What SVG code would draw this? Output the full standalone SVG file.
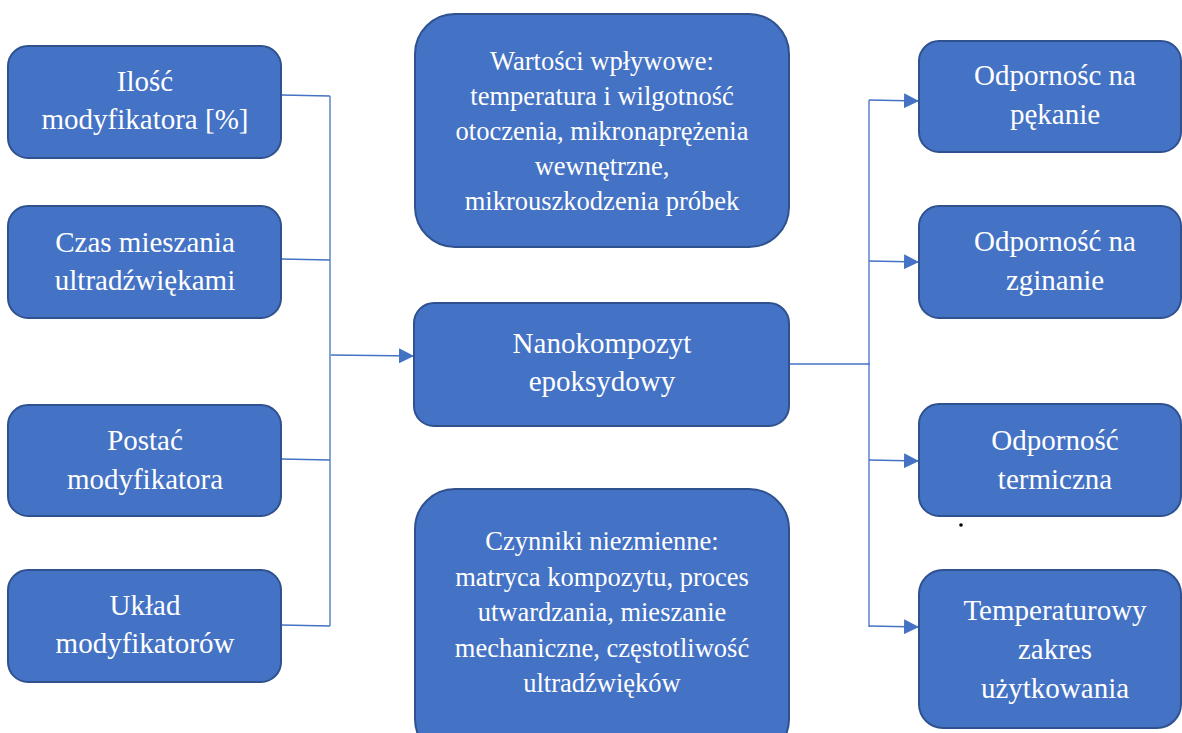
<svg xmlns="http://www.w3.org/2000/svg" width="1182" height="733" viewBox="0 0 1182 733">
<style>
.box{fill:#4472C4;stroke:#2F528F;stroke-width:2}
.t{font-family:"Liberation Serif","Times New Roman",serif;fill:#ffffff;text-anchor:middle;font-size:29px}
.s{font-size:26.5px}
.c{fill:none;stroke:#4472C4;stroke-width:1.3}
</style>
<defs>
<marker id="arr" viewBox="0 0 10 10" refX="10" refY="5" markerWidth="15" markerHeight="15" markerUnits="userSpaceOnUse" orient="auto">
<path d="M0,0 L10,5 L0,10 Z" fill="#4472C4"/>
</marker>
</defs>
<rect width="1182" height="733" fill="#ffffff"/>
<g id="connectors">
<path class="c" d="M281,95 L330,96 M281,259 L330,260 M281,459 L330,460 M281,625 L330,626 M330,96 L330,626"/>
<path class="c" d="M331,355 L414,356" marker-end="url(#arr)"/>
<path class="c" d="M789,364 L870,364 M869,100 L869,627"/>
<path class="c" d="M869,100 L919,101" marker-end="url(#arr)"/>
<path class="c" d="M869,261 L919,262" marker-end="url(#arr)"/>
<path class="c" d="M869,460 L919,461" marker-end="url(#arr)"/>
<path class="c" d="M869,626 L919,627" marker-end="url(#arr)"/>
</g>
<g id="n-ilosc">
<rect class="box" x="8" y="46" width="273" height="112" rx="20"/>
<text class="t" x="145" y="91">Ilość</text>
<text class="t" x="145" y="129">modyfikatora [%]</text>
</g>
<g id="n-czas">
<rect class="box" x="8" y="206" width="273" height="112" rx="20"/>
<text class="t" x="145" y="252">Czas mieszania</text>
<text class="t" x="145" y="290">ultradźwiękami</text>
</g>
<g id="n-postac">
<rect class="box" x="8" y="405" width="273" height="111" rx="20"/>
<text class="t" x="145" y="450">Postać</text>
<text class="t" x="145" y="489">modyfikatora</text>
</g>
<g id="n-uklad">
<rect class="box" x="8" y="570" width="273" height="112" rx="20"/>
<text class="t" x="145" y="615">Układ</text>
<text class="t" x="145" y="653">modyfikatorów</text>
</g>
<g id="n-wartosci">
<rect class="box" x="415" y="14" width="374" height="233" rx="40"/>
<text class="t s" x="602" y="70">Wartości wpływowe:</text>
<text class="t s" x="602" y="105">temperatura i wilgotność</text>
<text class="t s" x="602" y="140">otoczenia, mikronaprężenia</text>
<text class="t s" x="602" y="175">wewnętrzne,</text>
<text class="t s" x="602" y="210">mikrouszkodzenia próbek</text>
</g>
<g id="n-nano">
<rect class="box" x="414" y="303" width="375" height="123" rx="20"/>
<text class="t" x="602" y="353">Nanokompozyt</text>
<text class="t" x="602" y="391">epoksydowy</text>
</g>
<g id="n-czynniki">
<rect class="box" x="415" y="489" width="374" height="270" rx="40"/>
<text class="t s" x="602" y="550">Czynniki niezmienne:</text>
<text class="t s" x="602" y="585.5">matryca kompozytu, proces</text>
<text class="t s" x="602" y="621">utwardzania, mieszanie</text>
<text class="t s" x="602" y="656.5">mechaniczne, częstotliwość</text>
<text class="t s" x="602" y="692">ultradźwięków</text>
</g>
<g id="n-pekanie">
<rect class="box" x="919" y="41" width="262" height="111" rx="20"/>
<text class="t" x="1055" y="85">Odpornośc na</text>
<text class="t" x="1055" y="124">pękanie</text>
</g>
<g id="n-zginanie">
<rect class="box" x="919" y="206" width="262" height="112" rx="20"/>
<text class="t" x="1055" y="251">Odporność na</text>
<text class="t" x="1055" y="290">zginanie</text>
</g>
<g id="n-termiczna">
<rect class="box" x="919" y="404" width="262" height="112" rx="20"/>
<text class="t" x="1055" y="450">Odporność</text>
<text class="t" x="1055" y="489">termiczna</text>
</g>
<g id="n-zakres">
<rect class="box" x="919" y="570" width="262" height="158" rx="24"/>
<text class="t" x="1055" y="620">Temperaturowy</text>
<text class="t" x="1055" y="659">zakres</text>
<text class="t" x="1055" y="698">użytkowania</text>
</g>
<circle cx="961" cy="525" r="1.8" fill="#000000"/>
</svg>
